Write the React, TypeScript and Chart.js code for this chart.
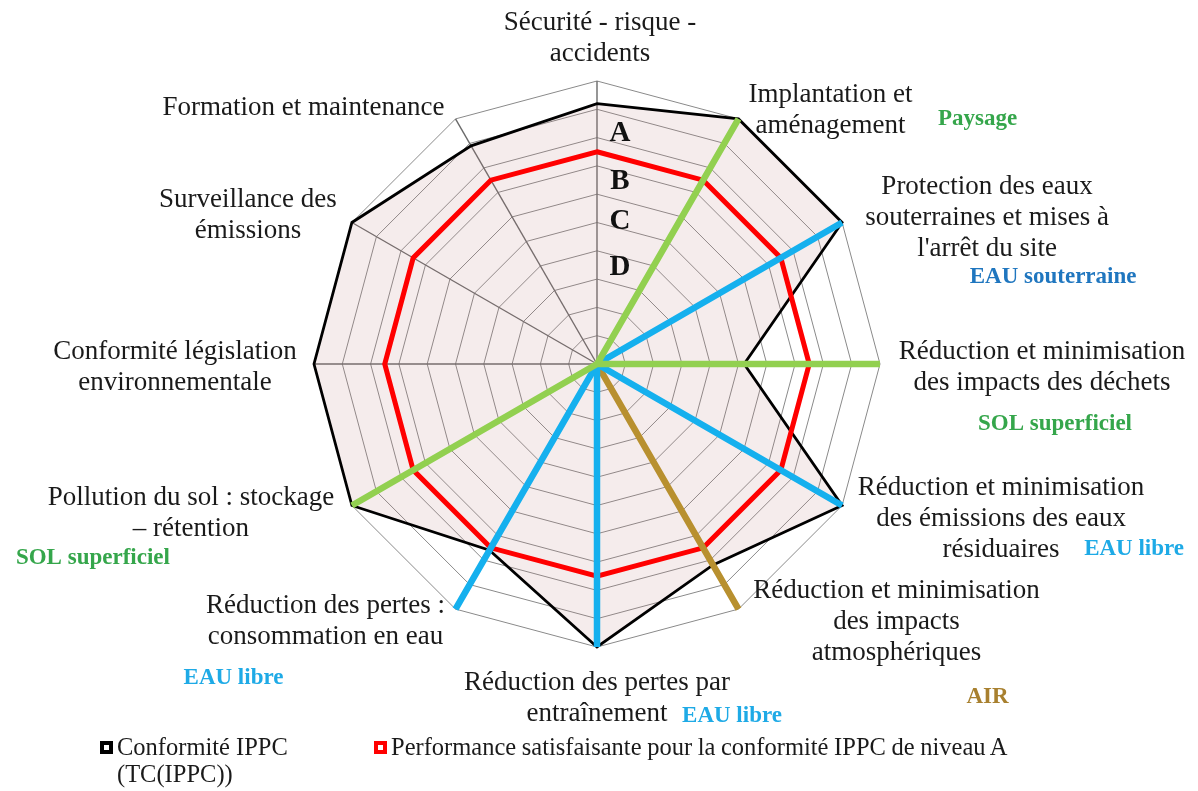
import React, { useEffect, useRef } from "react";
import { Chart, registerables } from "chart.js";

Chart.register(...registerables);

// ---- Data ----
const categories: string[][] = [
  ["Sécurité - risque -", "accidents"],
  ["Implantation et", "aménagement"],
  ["Protection des eaux", "souterraines et mises à", "l'arrêt du site"],
  ["Réduction et minimisation", "des impacts des déchets"],
  ["Réduction et minimisation", "des émissions des eaux", "résiduaires"],
  ["Réduction et minimisation", "des impacts", "atmosphériques"],
  ["Réduction des pertes par", "entraînement"],
  ["Réduction des pertes :", "consommation en eau"],
  ["Pollution du sol : stockage", "– rétention"],
  ["Conformité législation", "environnementale"],
  ["Surveillance des", "émissions"],
  ["Formation et maintenance"],
];

const conformiteIPPC = [92, 100, 100, 52, 100, 82, 100, 76, 100, 100, 100, 89];
const performanceA = [75, 75, 75, 75, 75, 75, 75, 75, 75, 75, 75, 75];

// Compartment spokes (value 100 on the concerned axis)
const spokeSol = [0, 100, 0, 100, 0, 0, 0, 0, 100, 0, 0, 0];
const spokeEauA = [0, 0, 100, 0, 100, 0, 100, 0, 0, 0, 0, 0];
const spokeEauB = [0, 0, 0, 0, 0, 0, 0, 100, 0, 0, 0, 0];
const spokeAir = [0, 0, 0, 0, 0, 100, 0, 0, 0, 0, 0, 0];

const zoneTexts = ["Paysage", "EAU souterraine", "SOL superficiel", "EAU libre", "AIR", "EAU libre", "EAU libre", "SOL superficiel"];
const zoneAxes = [1, 2, 3, 4, 5, 6, 7, 8];
const zoneColors = ["#35a64b", "#1f76bf", "#35a64b", "#1eaae6", "#a8802f", "#1eaae6", "#1eaae6", "#35a64b"];

const gradeLabels = ["A", "B", "C", "D"];
const gradeLevels = [81.5, 64.5, 50.5, 34];

const legendLabels = ["Conformité IPPC\n(TC(IPPC))", "Performance satisfaisante pour la conformité IPPC de niveau A"];

// ---- Layout (text placement relative to axis ends) ----
const LABEL_OFFSETS: [number, number][] = [
  [3, -43], [92, -9], [145, -5], [162, 3], [159, 13], [158, 13],
  [0, 51], [-130, 12], [-161, 8], [-139, 3], [-104, -7], [-152, -11],
];
const ZONE_OFFSETS: [number, number][] = [
  [239, 0], [211, 55], [175, 60], [292, 44], [249, 88], [135, 69], [-222, 69], [-259, 53],
];

const textPlugin = {
  id: "textLabels",
  afterDatasetsDraw(chart: any) {
    const scale = chart.scales.r;
    const ctx = chart.ctx as CanvasRenderingContext2D;
    ctx.save();
    ctx.textAlign = "center";
    ctx.textBaseline = "middle";
    ctx.font = '27px "Liberation Serif"';
    ctx.fillStyle = "#1a1a1a";
    categories.forEach((lines, i) => {
      const p = scale.getPointPosition(i, scale.drawingArea);
      const [dx, dy] = LABEL_OFFSETS[i];
      const n = lines.length;
      lines.forEach((line, k) => {
        ctx.fillText(line, p.x + dx, p.y + dy + (k - (n - 1) / 2) * 31);
      });
    });
    ctx.font = 'bold 23px "Liberation Serif"';
    zoneTexts.forEach((t, j) => {
      const p = scale.getPointPosition(zoneAxes[j], scale.drawingArea);
      const [dx, dy] = ZONE_OFFSETS[j];
      ctx.fillStyle = zoneColors[j];
      ctx.fillText(t, p.x + dx, p.y + dy);
    });
    ctx.font = 'bold 29px "Liberation Serif"';
    ctx.fillStyle = "#111";
    gradeLabels.forEach((g, j) => {
      const p = scale.getPointPosition(0, scale.getDistanceFromCenterForValue(gradeLevels[j]));
      ctx.fillText(g, p.x + 23, p.y);
    });
    ctx.restore();
  },
};

export default function App() {
  const ref = useRef<HTMLCanvasElement>(null);
  useEffect(() => {
    if (!ref.current) return;
    const spoke = (data: number[], color: string) => ({
      label: "",
      data,
      borderColor: color,
      borderWidth: 6.5,
      fill: false,
      pointRadius: 0,
      borderJoinStyle: "bevel" as const,
      clip: false as const,
    });
    const chart = new Chart(ref.current, {
      type: "radar",
      data: {
        labels: categories,
        datasets: [
          spoke(spokeSol, "#92d050"),
          spoke(spokeEauA, "#15b0ee"),
          spoke(spokeEauB, "#15b0ee"),
          spoke(spokeAir, "#b8902f"),
          {
            label: legendLabels[1],
            data: performanceA,
            borderColor: "#ff0000",
            borderWidth: 5,
            fill: false,
            pointRadius: 0,
            clip: false as const,
          },
          {
            label: legendLabels[0],
            data: conformiteIPPC,
            borderColor: "#000000",
            borderWidth: 2.8,
            backgroundColor: "rgba(190,130,130,0.15)",
            fill: "origin",
            pointRadius: 0,
            clip: false as const,
          },
        ],
      },
      options: {
        responsive: false,
        animation: false,
        layout: { padding: { left: 314, right: 318, top: 81, bottom: 144 } },
        plugins: { legend: { display: false }, tooltip: { enabled: false } },
        elements: { line: { tension: 0 }, point: { radius: 0 } },
        scales: {
          r: {
            min: 0,
            max: 100,
            ticks: { display: false, stepSize: 10 },
            grid: { color: "#8a8a8a", lineWidth: 1 },
            angleLines: { color: "#6a6a6a", lineWidth: 1.4 },
            pointLabels: { display: false },
          },
        },
      },
      plugins: [textPlugin],
    });
    return () => chart.destroy();
  }, []);

  const legendFont: React.CSSProperties = {
    position: "absolute",
    fontFamily: '"Liberation Serif", serif',
    fontSize: 24.5,
    lineHeight: "27px",
    color: "#1a1a1a",
    whiteSpace: "pre",
  };
  const marker = (color: string): React.CSSProperties => ({
    position: "absolute",
    width: 5,
    height: 5,
    border: `4px solid ${color}`,
    background: "#fff",
  });

  return (
    <div style={{ position: "absolute", left: 0, top: 0, width: 1198, height: 791, background: "#fff", overflow: "hidden" }}>
      <canvas ref={ref} width={1198} height={791} style={{ position: "absolute", left: 0, top: 0 }} />
      <div style={{ ...marker("#000"), left: 100, top: 741 }} />
      <div style={{ ...legendFont, left: 117, top: 733 }}>{legendLabels[0]}</div>
      <div style={{ ...marker("#ff0000"), left: 374, top: 741 }} />
      <div style={{ ...legendFont, left: 391, top: 733, wordSpacing: "-0.5px" }}>{legendLabels[1]}</div>
    </div>
  );
}
